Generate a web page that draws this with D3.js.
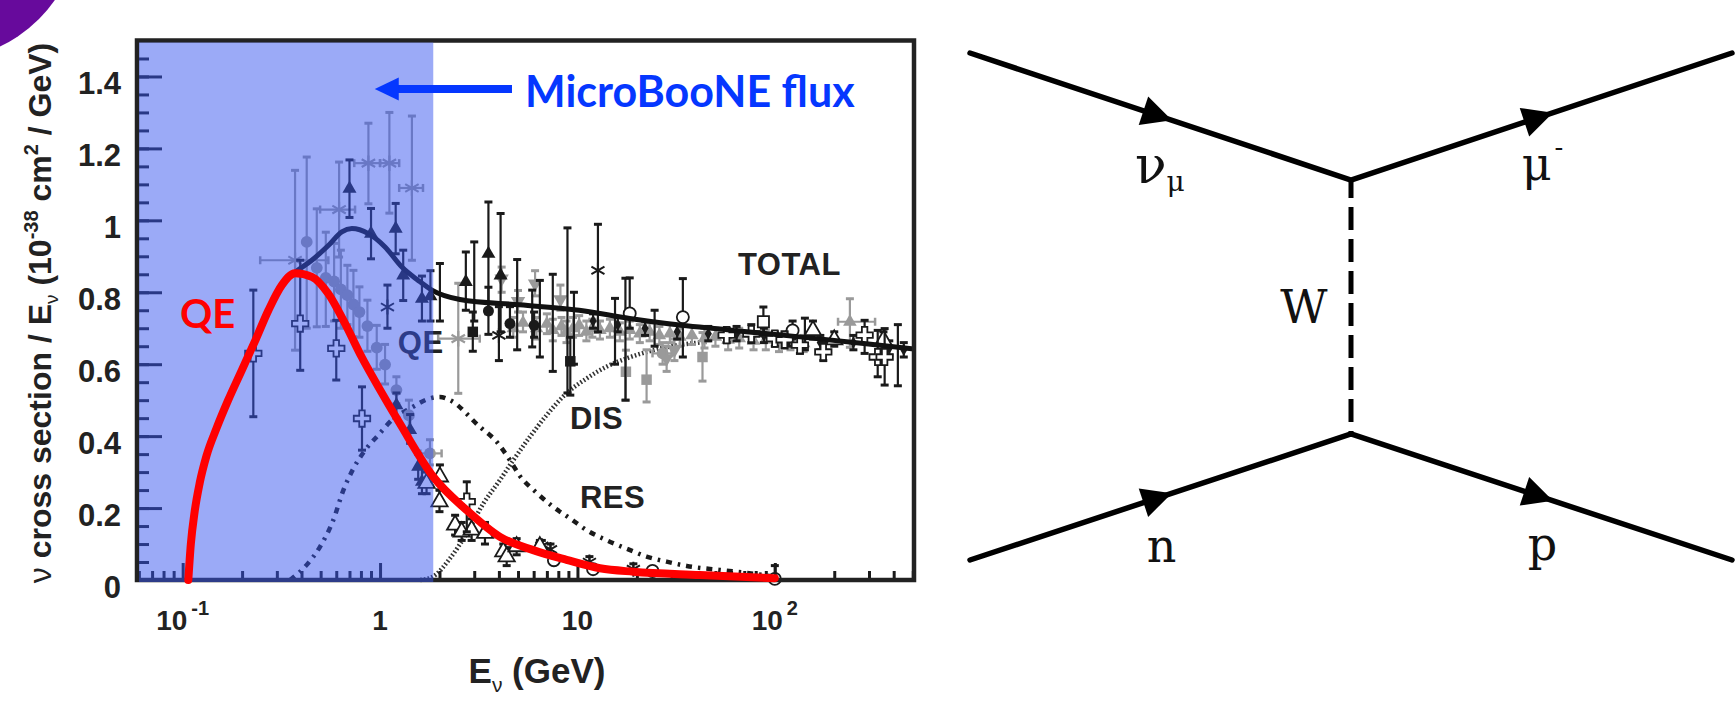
<!DOCTYPE html>
<html>
<head>
<meta charset="utf-8">
<script src="https://cdn.jsdelivr.net/npm/d3@7"></script>
<style>
  body { margin: 0; background: #fff; }
  svg { display: block; }
</style>
</head>
<body>
<div id="chart"></div>
<script>
// ---- axis ticks ----
const xTickValues = [0.1, 1, 10, 100];
const xTickBase = ["10", "1", "10", "10"];
const xTickExp = ["-1", "", "", "2"];
const xMinorValues = [0.06, 0.07, 0.08, 0.09, 0.2, 0.3, 0.4, 0.5, 0.6, 0.7, 0.8, 0.9,
  2, 3, 4, 5, 6, 7, 8, 9, 20, 30, 40, 50, 60, 70, 80, 90, 200, 300, 400, 500];
const yTickValues = [0, 0.2, 0.4, 0.6, 0.8, 1, 1.2, 1.4];
const yTickLabels = ["0", "0.2", "0.4", "0.6", "0.8", "1", "1.2", "1.4"];

// ---- model curves [E (GeV), sigma/E] ----
const totalCurve = [[0.1068, 0], [0.110, 0.10], [0.115, 0.19], [0.122, 0.27], [0.132, 0.345],
  [0.148, 0.42], [0.17, 0.50], [0.20, 0.585], [0.235, 0.67], [0.272, 0.75], [0.318, 0.82],
  [0.371, 0.855], [0.451, 0.889], [0.547, 0.93], [0.64, 0.968], [0.72, 0.977], [0.873, 0.963],
  [1.06, 0.926], [1.29, 0.87], [1.56, 0.833], [1.83, 0.806], [2.54, 0.78], [5.1, 0.765],
  [10.2, 0.75], [18.4, 0.727], [28.3, 0.713], [61.5, 0.694], [134, 0.676], [290, 0.657], [507, 0.642]];
const qeCurve = [[0.1068, 0], [0.110, 0.10], [0.115, 0.19], [0.122, 0.27], [0.132, 0.345],
  [0.148, 0.42], [0.17, 0.50], [0.20, 0.585], [0.235, 0.67], [0.272, 0.75], [0.318, 0.82],
  [0.371, 0.853], [0.451, 0.843], [0.547, 0.796], [0.665, 0.713], [0.807, 0.62], [0.98, 0.537],
  [1.26, 0.435], [1.86, 0.287], [2.75, 0.194], [4.05, 0.12], [5.97, 0.083], [8.81, 0.056],
  [13.0, 0.0325], [19.2, 0.023], [41.7, 0.014], [100, 0.005]];
const resCurve = [[0.35, 0], [0.425, 0.042], [0.497, 0.093], [0.58, 0.167], [0.652, 0.25],
  [0.733, 0.31], [0.84, 0.361], [0.98, 0.403], [1.17, 0.449], [1.42, 0.477], [1.79, 0.505],
  [2.01, 0.509], [2.26, 0.5], [3.2, 0.426], [3.9, 0.384], [4.55, 0.333], [5.1, 0.29], [6.2, 0.243],
  [7.5, 0.204], [9.2, 0.171], [11.1, 0.139], [14, 0.111], [18.5, 0.083], [22.4, 0.065],
  [28.3, 0.051], [35.8, 0.039], [52.5, 0.028], [74, 0.019], [101, 0.009]];
const disCurve = [[1.6, 0], [1.86, 0.01], [2.26, 0.06], [2.75, 0.13], [3.34, 0.213], [4.05, 0.278],
  [4.73, 0.333], [5.74, 0.398], [6.97, 0.458], [8.8, 0.519], [11.1, 0.56], [14, 0.593],
  [17.7, 0.616], [22.4, 0.634], [30, 0.65], [45, 0.662]];

// MicroBooNE flux band upper edge (GeV)
const fluxMax = 1.86;

// ---- measurements [E, value, low, high, (Elow, Ehigh)] ----
const grayStarPts = [[0.371, 0.889, 0.639, 1.139, 0.247, 0.547], [0.62, 1.03, 0.898, 1.162, 0.497, 0.747],
  [0.873, 1.159, 1.046, 1.27, 0.74, 1.0], [1.115, 1.159, 1.02, 1.30, 1.0, 1.25],
  [1.45, 1.09, 0.889, 1.29, 1.25, 1.65], [2.49, 0.671, 0.519, 0.825, 1.97, 3.2]];
const grayCirclePts = [[0.425, 0.94, 0.70, 1.176], [0.478, 0.868, 0.704, 1.032], [0.531, 0.84, 0.705, 0.967],
  [0.585, 0.83, 0.72, 0.936], [0.633, 0.808, 0.70, 0.917], [0.683, 0.792, 0.71, 0.875],
  [0.733, 0.766, 0.676, 0.861], [0.786, 0.745, 0.675, 0.815], [0.863, 0.706, 0.636, 0.778],
  [0.962, 0.646, 0.586, 0.708], [1.06, 0.599, 0.545, 0.655], [1.21, 0.528, 0.49, 0.565],
  [1.40, 0.458, 0.42, 0.5], [1.79, 0.352, 0.32, 0.39, 1.6, 2.05], [27, 0.63, 0.60, 0.66, 24, 30]];
const grayTrianglePts = [[4.73, 0.70, 0.675, 0.73], [5.3, 0.715, 0.69, 0.745], [6.2, 0.70, 0.67, 0.73],
  [7.0, 0.712, 0.685, 0.74], [7.5, 0.695, 0.665, 0.725], [8.3, 0.705, 0.68, 0.73], [8.8, 0.69, 0.66, 0.72],
  [9.5, 0.70, 0.675, 0.73], [10.2, 0.708, 0.68, 0.735], [11.1, 0.69, 0.665, 0.72], [11.9, 0.70, 0.675, 0.725],
  [13, 0.695, 0.67, 0.72], [14.6, 0.70, 0.675, 0.725], [16.4, 0.69, 0.665, 0.715], [18.4, 0.695, 0.67, 0.72],
  [20.7, 0.685, 0.66, 0.71], [23.2, 0.69, 0.665, 0.715], [26, 0.68, 0.655, 0.705], [29.4, 0.685, 0.66, 0.71],
  [33, 0.676, 0.65, 0.70], [38, 0.68, 0.655, 0.705], [44, 0.672, 0.645, 0.70], [50, 0.676, 0.65, 0.70],
  [58, 0.668, 0.64, 0.695], [66, 0.672, 0.645, 0.70], [78, 0.665, 0.64, 0.69], [90, 0.668, 0.64, 0.695],
  [105, 0.66, 0.635, 0.685], [120, 0.665, 0.64, 0.69], [140, 0.658, 0.635, 0.68],
  [240, 0.718, 0.647, 0.782, 209, 322]];
const grayInvTrianglePts = [[4.13, 0.838, 0.80, 0.87], [5.0, 0.775, 0.745, 0.805], [6.1, 0.824, 0.79, 0.86],
  [8.2, 0.78, 0.75, 0.82], [28.3, 0.616, 0.58, 0.65], [31, 0.64, 0.61, 0.67]];
const graySquarePts = [[17.6, 0.579, 0.50, 0.639], [22.4, 0.557, 0.495, 0.64], [43, 0.62, 0.553, 0.688]];

const blackBarPts = [[2.01, 0.80, 0.72, 0.88], [3.0, 0.82, 0.72, 0.94], [4.95, 0.76, 0.64, 0.891],
  [5.9, 0.72, 0.648, 0.806], [6.45, 0.74, 0.62, 0.833], [7.5, 0.73, 0.58, 0.85], [8.9, 0.75, 0.52, 0.979],
  [9.6, 0.73, 0.60, 0.80], [15.5, 0.72, 0.60, 0.783], [17.5, 0.70, 0.50, 0.839], [24.6, 0.70, 0.65, 0.75],
  [142, 0.67, 0.64, 0.728], [420, 0.66, 0.54, 0.71]];
const blackTrianglePts = [[0.70, 1.088, 1.008, 1.168], [0.90, 0.963, 0.893, 1.033], [1.2, 0.977, 0.907, 1.047],
  [1.31, 0.847, 0.777, 0.917], [1.63, 0.782, 0.72, 0.845], [1.80, 0.789, 0.72, 0.86],
  [2.72, 0.829, 0.75, 0.912], [3.54, 0.907, 0.74, 1.051], [4.08, 0.847, 0.69, 1.019],
  [1.21, 0.486, 0.45, 0.52], [1.42, 0.417, 0.38, 0.46], [1.56, 0.315, 0.28, 0.35], [1.63, 0.273, 0.24, 0.31]];
const blackCirclePts = [[3.54, 0.748, 0.683, 0.814], [4.55, 0.713, 0.675, 0.76], [6.03, 0.708, 0.675, 0.745],
  [12, 0.72, 0.70, 0.74], [16, 0.71, 0.69, 0.73], [22, 0.70, 0.68, 0.72], [32, 0.69, 0.67, 0.71],
  [46, 0.685, 0.665, 0.705], [64, 0.685, 0.665, 0.705], [88, 0.68, 0.66, 0.70], [118, 0.672, 0.65, 0.69],
  [170, 0.66, 0.64, 0.68], [250, 0.66, 0.64, 0.68], [380, 0.645, 0.625, 0.665], [450, 0.64, 0.62, 0.66]];
const blackSquarePts = [[2.95, 0.69, 0.636, 0.745], [9.2, 0.608, 0.514, 0.675]];
const blackStarPts = [[1.09, 0.759, 0.70, 0.82], [4.0, 0.68, 0.61, 0.76], [12.7, 0.861, 0.69, 0.989],
  [6.6, 0.095, 0.08, 0.11], [7.3, 0.085, 0.07, 0.10], [11.5, 0.05, 0.04, 0.065], [19.2, 0.03, 0.02, 0.045]];
const openCrossPts = [[0.228, 0.63, 0.454, 0.806], [0.394, 0.713, 0.583, 0.889], [0.60, 0.644, 0.556, 0.722],
  [0.81, 0.449, 0.361, 0.537], [2.75, 0.218, 0.134, 0.273], [57, 0.681, 0.66, 0.70], [76, 0.684, 0.66, 0.71],
  [100, 0.671, 0.65, 0.69], [112, 0.668, 0.645, 0.69], [134, 0.653, 0.63, 0.675], [176, 0.634, 0.61, 0.66],
  [285, 0.681, 0.63, 0.722], [332, 0.62, 0.565, 0.694], [360, 0.62, 0.542, 0.699]];
const openTrianglePts = [[1.72, 0.269, 0.24, 0.30], [2.01, 0.287, 0.25, 0.32], [2.0, 0.218, 0.19, 0.25],
  [2.4, 0.153, 0.125, 0.18], [2.59, 0.134, 0.11, 0.16], [2.91, 0.139, 0.11, 0.17], [3.4, 0.13, 0.10, 0.16],
  [4.21, 0.079, 0.055, 0.10], [4.38, 0.065, 0.04, 0.09], [4.92, 0.093, 0.07, 0.115], [6.45, 0.093, 0.075, 0.11],
  [156, 0.694, 0.67, 0.72], [200, 0.668, 0.65, 0.69], [355, 0.667, 0.64, 0.69]];
const openCirclePts = [[18.4, 0.741, 0.70, 0.84], [34.2, 0.731, 0.62, 0.838], [123, 0.694, 0.67, 0.72],
  [7.6, 0.055, 0.055, 0.055], [12, 0.03, 0.03, 0.03], [24, 0.025, 0.025, 0.025], [100, 0.003, 0.003, 0.04]];
const openSquarePts = [[87.5, 0.718, 0.68, 0.759]];

// ---- text labels [text, E, value] ----
const curveLabels = [["TOTAL", 65, 0.847], ["DIS", 9.17, 0.419], ["RES", 10.3, 0.2], ["QE", 1.23, 0.63]];

// ---- Feynman diagram (unit frame) ----
const legTop = [[0, 0], [0.5, 0.2505], [1, 0]];
const legBottom = [[0, 1], [0.5, 0.7515], [1, 1]];
const arrowAt = 0.53;
const diagramLabels = [
  { text: "ν", sub: "μ", sup: "", fx: 0.2165, fy: 0.256 },
  { text: "μ", sub: "", sup: "-", fx: 0.724, fy: 0.25 },
  { text: "W", sub: "", sup: "", fx: 0.407, fy: 0.533 },
  { text: "n", sub: "", sup: "", fx: 0.232, fy: 1.004 },
  { text: "p", sub: "", sup: "", fx: 0.732, fy: 1.0 }
];

// ===================================================================
const W = 1736, H = 703;
const ink = "#1a1a1a", gray = "#9a9a9a";
const sans = "'Liberation Sans', Arial, sans-serif";

const svg = d3.select("#chart").append("svg").attr("width", W).attr("height", H);

// slide decoration in the corner
svg.append("circle").attr("cx", -60).attr("cy", -80).attr("r", 140).attr("fill", "#670a9c");

const x = d3.scaleLog().domain([0.0587, 507]).range([137, 914]);
const y = d3.scaleLinear().domain([0, 1.5]).range([580, 40.5]);

const plot = svg.append("g");

function drawCurve(data, stroke, width, dash) {
  plot.append("path").datum(data)
    .attr("d", d3.line().x(d => x(d[0])).y(d => y(d[1])).curve(d3.curveMonotoneX))
    .attr("fill", "none").attr("stroke", stroke).attr("stroke-width", width)
    .attr("stroke-dasharray", dash || null);
}

drawCurve(disCurve, "#333", 4.5, "1.6,2.2");
drawCurve(resCurve, ink, 4.5, "6,6,2.5,6");

const symAst = d3.symbolAsterisk || d3.symbolCross;

function drawPoints(pts, opt) {
  const g = plot.append("g");
  const bars = pts.filter(d => d[2] !== d[3]);
  g.selectAll("line.v").data(bars).join("line").attr("class", "v")
    .attr("x1", d => x(d[0])).attr("x2", d => x(d[0]))
    .attr("y1", d => y(d[2])).attr("y2", d => y(d[3]))
    .attr("stroke", opt.bar).attr("stroke-width", 2.2);
  const caps = bars.flatMap(d => [[d[0], d[2]], [d[0], d[3]]]);
  g.selectAll("line.c").data(caps).join("line").attr("class", "c")
    .attr("x1", d => x(d[0]) - 4).attr("x2", d => x(d[0]) + 4)
    .attr("y1", d => y(d[1])).attr("y2", d => y(d[1]))
    .attr("stroke", opt.bar).attr("stroke-width", 3);
  const hb = pts.filter(d => d.length > 4);
  g.selectAll("line.h").data(hb).join("line").attr("class", "h")
    .attr("x1", d => x(d[4])).attr("x2", d => x(d[5]))
    .attr("y1", d => y(d[1])).attr("y2", d => y(d[1]))
    .attr("stroke", opt.bar).attr("stroke-width", 2.2);
  const hcaps = hb.flatMap(d => [[d[4], d[1]], [d[5], d[1]]]);
  g.selectAll("line.hc").data(hcaps).join("line").attr("class", "hc")
    .attr("x1", d => x(d[0])).attr("x2", d => x(d[0]))
    .attr("y1", d => y(d[1]) - 4).attr("y2", d => y(d[1]) + 4)
    .attr("stroke", opt.bar).attr("stroke-width", 2.5);
  if (!opt.symbol) return;
  g.selectAll("path").data(pts).join("path")
    .attr("d", d3.symbol().type(opt.symbol).size(opt.size))
    .attr("transform", d => `translate(${x(d[0])},${y(d[1])})${opt.flip ? " rotate(180)" : ""}`)
    .attr("fill", opt.fill).attr("stroke", opt.stroke || "none").attr("stroke-width", opt.sw || 0);
}

// gray data first, then black
drawPoints(grayStarPts, { bar: gray, symbol: symAst, size: 170, fill: "none", stroke: gray, sw: 2.2 });
drawPoints(grayCirclePts, { bar: gray, symbol: d3.symbolCircle, size: 110, fill: gray });
drawPoints(grayTrianglePts, { bar: gray, symbol: d3.symbolTriangle, size: 80, fill: gray });
drawPoints(grayInvTrianglePts, { bar: gray, symbol: d3.symbolTriangle, size: 90, fill: gray, flip: true });
drawPoints(graySquarePts, { bar: gray, symbol: d3.symbolSquare, size: 110, fill: gray });
drawPoints(blackBarPts, { bar: ink });
drawPoints(blackCirclePts.slice(0, 3), { bar: ink, symbol: d3.symbolCircle, size: 95, fill: ink });
drawPoints(blackCirclePts.slice(3), { bar: ink, symbol: d3.symbolDiamond, size: 45, fill: ink });
drawPoints(blackTrianglePts, { bar: ink, symbol: d3.symbolTriangle, size: 85, fill: ink });
drawPoints(blackSquarePts, { bar: ink, symbol: d3.symbolSquare, size: 110, fill: ink });
drawPoints(blackStarPts, { bar: ink, symbol: symAst, size: 160, fill: "none", stroke: ink, sw: 2 });
drawPoints(openTrianglePts, { bar: ink, symbol: d3.symbolTriangle, size: 115, fill: "#fff", stroke: ink, sw: 1.8 });
drawPoints(openCirclePts, { bar: ink, symbol: d3.symbolCircle, size: 115, fill: "#fff", stroke: ink, sw: 1.8 });
drawPoints(openSquarePts, { bar: ink, symbol: d3.symbolSquare, size: 125, fill: "#fff", stroke: ink, sw: 1.8 });
drawPoints(openCrossPts, { bar: ink, symbol: d3.symbolCross, size: 150, fill: "#fff", stroke: ink, sw: 1.8 });

drawCurve(totalCurve, "#111", 5);

// curve names
plot.selectAll("text.cl").data(curveLabels).join("text").attr("class", "cl")
  .attr("x", d => x(d[1])).attr("y", d => y(d[2]))
  .attr("font-family", sans).attr("font-weight", "bold").attr("font-size", 31)
  .attr("letter-spacing", 0.5).attr("fill", "#222").text(d => d[0]);

// ---- frame and ticks ----
const axes = svg.append("g");
axes.append("g").attr("transform", "translate(137,0)")
  .call(d3.axisLeft(y).tickValues(d3.range(0.05, 1.5, 0.05)).tickSize(-12).tickFormat(""))
  .call(g => g.select(".domain").remove());
axes.append("g").attr("transform", "translate(137,0)")
  .call(d3.axisLeft(y).tickValues(yTickValues).tickSize(-25).tickFormat(""))
  .call(g => g.select(".domain").remove());
axes.append("g").attr("transform", "translate(0,580)")
  .call(d3.axisBottom(x).tickValues(xMinorValues).tickSize(-9).tickFormat(""))
  .call(g => g.select(".domain").remove());
axes.append("g").attr("transform", "translate(0,580)")
  .call(d3.axisBottom(x).tickValues(xTickValues).tickSize(-17).tickFormat(""))
  .call(g => g.select(".domain").remove());
axes.selectAll(".tick line").attr("stroke", ink).attr("stroke-width", 3);
axes.append("rect").attr("x", x.range()[0]).attr("y", y.range()[1])
  .attr("width", x.range()[1] - x.range()[0]).attr("height", y.range()[0] - y.range()[1])
  .attr("fill", "none").attr("stroke", "#222").attr("stroke-width", 4.5);

// ---- MicroBooNE flux overlay ----
svg.append("rect")
  .attr("x", x.range()[0] + 2).attr("y", y.range()[1] + 2)
  .attr("width", x(fluxMax) - x.range()[0] - 2).attr("height", y.range()[0] - y.range()[1])
  .attr("fill", "rgb(55,85,240)").attr("fill-opacity", 0.5);

// red QE curve on top
svg.append("path").datum(qeCurve)
  .attr("d", d3.line().x(d => x(d[0])).y(d => y(d[1])).curve(d3.curveMonotoneX))
  .attr("fill", "none").attr("stroke", "#ff0000").attr("stroke-width", 8)
  .attr("stroke-linecap", "round");

svg.append("text").attr("x", x(0.097)).attr("y", y(0.70))
  .attr("font-family", "Lato, 'Open Sans', sans-serif").attr("font-weight", "bold")
  .attr("font-size", 40).attr("fill", "#ff0000").text("QE");

// flux arrow
const arrowY = y(1.365);
const fluxBlue = "#0537ff";
svg.append("line").attr("x1", x(4.66)).attr("x2", x(0.94) + 20).attr("y1", arrowY).attr("y2", arrowY)
  .attr("stroke", fluxBlue).attr("stroke-width", 8);
svg.append("path")
  .attr("d", `M${x(0.94)},${arrowY} L${x(0.94) + 24},${arrowY - 11.5} L${x(0.94) + 24},${arrowY + 11.5} Z`)
  .attr("fill", fluxBlue);
svg.append("text").attr("x", x(5.43)).attr("y", y(1.314))
  .attr("font-family", "Lato, 'Open Sans', sans-serif").attr("font-weight", "bold")
  .attr("font-size", 43).attr("fill", fluxBlue).text("MicroBooNE flux");

// ---- tick labels ----
svg.append("g").selectAll("text").data(yTickValues).join("text")
  .attr("x", 121).attr("y", d => y(d) + 18).attr("text-anchor", "end")
  .attr("font-family", sans).attr("font-weight", "bold").attr("font-size", 31).attr("fill", "#222")
  .text((d, i) => yTickLabels[i]);

const xl = svg.append("g").selectAll("text").data(xTickValues).join("text")
  .attr("x", d => x(d)).attr("y", 630).attr("text-anchor", "middle")
  .attr("font-family", sans).attr("font-weight", "bold").attr("font-size", 28).attr("fill", "#222");
xl.append("tspan").text((d, i) => xTickBase[i]);
xl.append("tspan").attr("dx", 4).attr("dy", -15).attr("font-size", 20).text((d, i) => xTickExp[i]);

// ---- axis titles ----
const xt = svg.append("text").attr("x", 537).attr("y", 683).attr("text-anchor", "middle")
  .attr("font-family", sans).attr("font-weight", "bold").attr("font-size", 35).attr("fill", "#222");
xt.append("tspan").text("E");
xt.append("tspan").attr("dy", 9).attr("font-size", 21).attr("font-weight", "normal").text("ν");
xt.append("tspan").attr("dy", -9).text(" (GeV)");

const yt = svg.append("text").attr("transform", "translate(51,313) rotate(-90)")
  .attr("text-anchor", "middle").attr("font-family", sans).attr("font-weight", "bold")
  .attr("font-size", 32).attr("fill", "#222");
yt.append("tspan").attr("font-weight", "normal").text("ν");
yt.append("tspan").text(" cross section / E");
yt.append("tspan").attr("dy", 7).attr("font-size", 19).attr("font-weight", "normal").text("ν");
yt.append("tspan").attr("dy", -7).text(" (10");
yt.append("tspan").attr("dy", -13).attr("font-size", 20).text("-38");
yt.append("tspan").attr("dy", 13).text(" cm");
yt.append("tspan").attr("dy", -13).attr("font-size", 20).text("2");
yt.append("tspan").attr("dy", 13).text(" / GeV)");

// ---- Feynman diagram ----
const fx = d3.scaleLinear().domain([0, 1]).range([970, 1732]);
const fy = d3.scaleLinear().domain([0, 1]).range([53, 560]);
const fd = svg.append("g");
const legLine = d3.line().x(d => fx(d[0])).y(d => fy(d[1]));
[legTop, legBottom].forEach(leg => {
  fd.append("path").attr("d", legLine(leg)).attr("fill", "none").attr("stroke", "#000")
    .attr("stroke-width", 5.5).attr("stroke-linecap", "round").attr("stroke-linejoin", "miter");
});
fd.append("line").attr("x1", fx(legTop[1][0])).attr("x2", fx(legBottom[1][0]))
  .attr("y1", fy(legTop[1][1])).attr("y2", fy(legBottom[1][1]))
  .attr("stroke", "#000").attr("stroke-width", 5).attr("stroke-dasharray", "23,9")
  .attr("stroke-dashoffset", 5);

const segments = [[legTop[0], legTop[1]], [legTop[1], legTop[2]], [legBottom[0], legBottom[1]], [legBottom[1], legBottom[2]]];
segments.forEach(([a, b]) => {
  const x0 = fx(a[0]), y0 = fy(a[1]), x1 = fx(b[0]), y1 = fy(b[1]);
  const tx = x0 + arrowAt * (x1 - x0), ty = y0 + arrowAt * (y1 - y0);
  const ang = Math.atan2(y1 - y0, x1 - x0) * 180 / Math.PI;
  fd.append("path").attr("d", "M0,0 L-30,-15 L-30,15 Z")
    .attr("transform", `translate(${tx},${ty}) rotate(${ang})`).attr("fill", "#000");
});

const dl = fd.selectAll("text").data(diagramLabels).join("text")
  .attr("x", d => fx(d.fx)).attr("y", d => fy(d.fy))
  .attr("font-family", "'DejaVu Serif', 'Liberation Serif', serif").attr("font-size", 48).attr("fill", "#111");
dl.append("tspan").attr("font-size", d => d.text === "ν" ? 52 : 46).text(d => d.text);
dl.filter(d => d.sub).append("tspan").attr("dy", 8).attr("font-size", 28).text(d => d.sub);
dl.filter(d => d.sup).append("tspan").attr("dx", 3).attr("dy", -24).attr("font-size", 26).text(d => d.sup);
</script>
</body>
</html>
